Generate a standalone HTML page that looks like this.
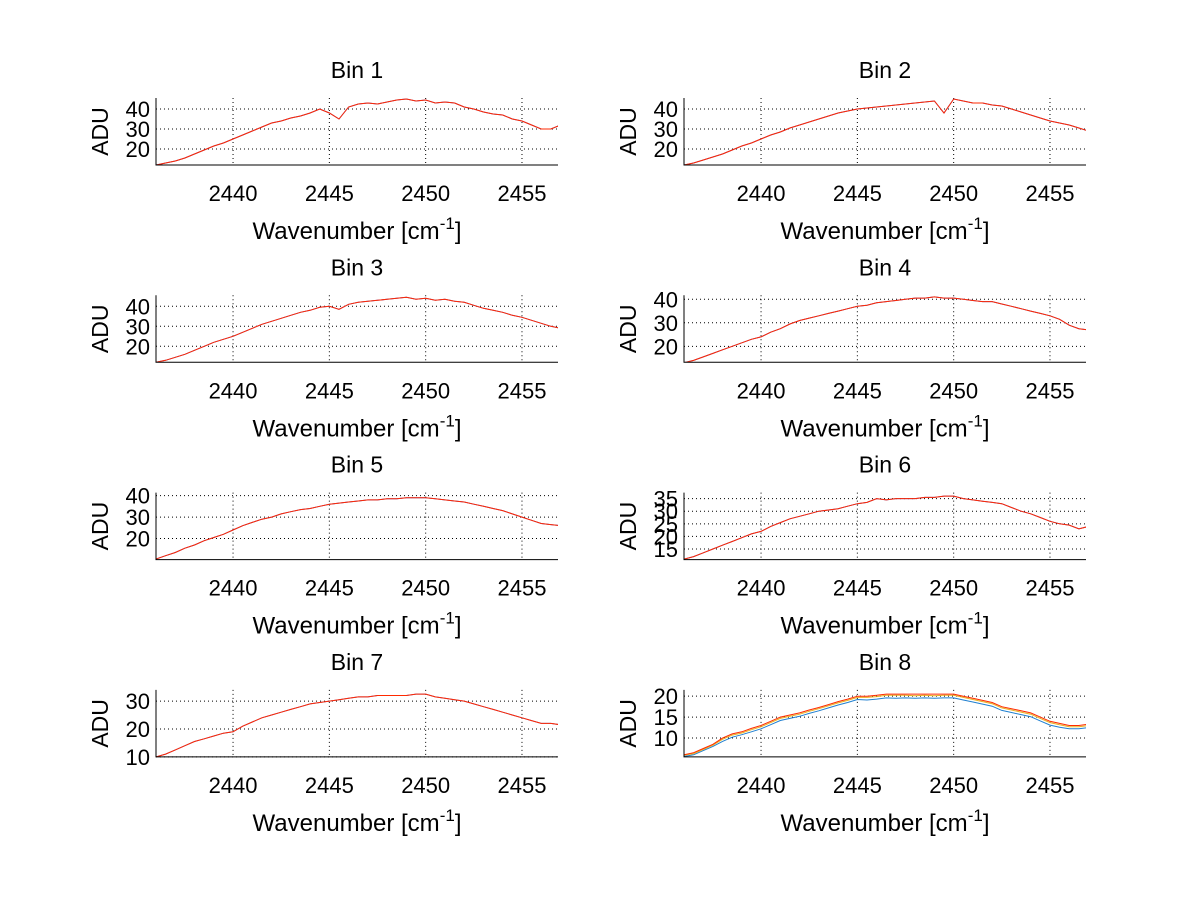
<!DOCTYPE html>
<html><head><meta charset="utf-8"><style>
html,body{margin:0;padding:0;background:#fff;}
svg{display:block;font-family:"Liberation Sans",sans-serif;}
</style></head><body>
<svg id="fig" width="1200" height="901" viewBox="0 0 1200 901" xmlns="http://www.w3.org/2000/svg">
<rect width="1200" height="901" fill="#fff"/>
</svg>
<script>
const xStart = 2436, xStep = 0.5;
const xTicks = [2440, 2445, 2450, 2455];
const bin1 = [12,13,14,15.5,17.5,19.5,21.5,23,25,27,29,31,33,34,35.5,36.5,38,40,38,35,41,42.5,43,42.5,43.5,44.5,45,44,44.5,43,43.5,43,41,40,38.5,37.5,37,35,34,32,30,30,32];
const bin2 = [12,13,14.5,16,17.5,19.5,21.5,23,25,27,28.5,30.5,32,33.5,35,36.5,38,39,40,40.5,41,41.5,42,42.5,43,43.5,44,38,45,44,43,43,42,41.5,40,38.5,37,35.5,34,33,32,30.5,29];
const bin3 = [12,13,14.5,16,18,20,22,23.5,25,27,29,31,32.5,34,35.5,37,38,39.5,40,38.5,41,42,42.5,43,43.5,44,44.5,43.5,44,43,43.5,42.5,42,40.5,39,38,37,35.5,34.5,33,31.5,30,29];
const bin4 = [13,14,15.5,17,18.5,20,21.5,23,24,26,27.5,29.5,31,32,33,34,35,36,37,37.5,38.5,39,39.5,40,40.5,40.5,41,40.5,40.5,40,39.5,39,39,38,37,36,35,34,33,31.5,29,27.5,27];
const bin5 = [10.5,12,13.5,15.5,17,19,20.5,22,24,26,27.5,29,30,31.5,32.5,33.5,34,35,36,36.5,37,37.5,38,38,38.5,38.5,39,39,39,38.5,38,37.5,37,36,35,34,33,31.5,30,28.5,27,26.5,26];
const bin6 = [11,12,13.5,15,16.5,18,19.5,21,22,24,25.5,27,28,29,30,30.5,31,32,33,33.5,35,34.5,35,35,35,35.5,35.5,36,36,35,34.5,34,33.5,33,31.5,30,29,27.5,26,25,24.5,23,24];
const bin7 = [10,11,12.5,14,15.5,16.5,17.5,18.5,19,21,22.5,24,25,26,27,28,29,29.5,30,30.5,31,31.5,31.5,32,32,32,32,32.5,32.5,31.5,31,30.5,30,29,28,27,26,25,24,23,22,22,21.5];
const bin8Red = [6,6.5,7.5,8.5,10,11,11.5,12.3,13,14,15,15.5,16,16.7,17.3,18,18.7,19.3,20,20,20.2,20.5,20.5,20.5,20.5,20.5,20.5,20.5,20.5,20,19.5,19,18.5,17.5,17,16.5,16,15,14,13.5,13,13,13.3];
const bin8Yellow = [5.9,6.3,7.3,8.3,9.7,10.7,11.2,12,12.7,13.7,14.7,15.2,15.7,16.4,17,17.7,18.4,19,19.7,19.7,19.9,20.2,20.2,20.2,20.1,20.2,20.1,20.2,20.2,19.7,19.2,18.7,18.2,17.2,16.7,16.2,15.7,14.7,13.7,13.2,12.7,12.7,13];
const bin8Blue = [5.6,6,7,8,9.2,10.2,10.8,11.5,12.2,13.2,14.2,14.7,15.2,15.9,16.5,17.2,17.9,18.5,19.2,19.1,19.3,19.6,19.5,19.6,19.5,19.6,19.5,19.6,19.6,19.1,18.6,18.1,17.6,16.6,16.1,15.6,15.1,14.1,13.1,12.6,12.2,12.2,12.5];
const panelTitles = ["Bin 1","Bin 2","Bin 3","Bin 4","Bin 5","Bin 6","Bin 7","Bin 8"];
const yLimits = [[12,45.5],[12,45.5],[12,45.5],[13.2,41.7],[10.2,41.4],[10.8,37.4],[10,34],[5.5,21.5]];
const yTickSets = [[20,30,40],[20,30,40],[20,30,40],[20,30,40],[20,30,40],[15,20,25,30,35],[10,20,30],[10,15,20]];
const seriesSets = [
  [[bin1,"#3b3bd0"],[bin1,"#ff2a00"]],
  [[bin2,"#3b3bd0"],[bin2,"#ff2a00"]],
  [[bin3,"#3b3bd0"],[bin3,"#ff2a00"]],
  [[bin4,"#3b3bd0"],[bin4,"#ff2a00"]],
  [[bin5,"#3b3bd0"],[bin5,"#ff2a00"]],
  [[bin6,"#3b3bd0"],[bin6,"#ff2a00"]],
  [[bin7,"#5050d0"],[bin7,"#ff2a00"]],
  [[bin8Blue,"#1f7fd0"],[bin8Yellow,"#e8b020"],[bin8Red,"#ff2a00"]]
];
const NS = "http://www.w3.org/2000/svg";
const svg = document.getElementById("fig");
function mk(tag, attrs, parent){const e=document.createElementNS(NS,tag);for(const k in attrs)e.setAttribute(k,attrs[k]);parent.appendChild(e);return e;}
const xMin = 2436.0, xMax = 2456.87;
for(let p=0;p<8;p++){
  const col=p%2,row=Math.floor(p/2);
  const L = col===0?156:684, R = col===0?558:1086;
  const B = 165+row*197.3, T = B-67;
  const [ymin,ymax]=yLimits[p];
  const sx=v=>L+(v-xMin)/(xMax-xMin)*(R-L);
  const sy=v=>B-(v-ymin)/(ymax-ymin)*(B-T);
  const g=mk("g",{},svg);
  
  
  const clipId="c"+p;
  const cp=mk("clipPath",{id:clipId},g);mk("rect",{x:L,y:T-2,width:R-L,height:B-T+2},cp);
  xTicks.forEach(t=>{const l=mk("line",{x1:sx(t),x2:sx(t),y1:T,y2:B,stroke:"#000","stroke-width":1,"stroke-dasharray":"1,3"},g);
    
    const tx=mk("text",{x:sx(t),y:B+36,"font-size":22,"text-anchor":"middle",fill:"#000"},g);tx.textContent=t;
    });
  yTickSets[p].forEach(t=>{const l=mk("line",{x1:L,x2:R,y1:sy(t),y2:sy(t),stroke:"#000","stroke-width":1,"stroke-dasharray":"1,3"},g);
    
    const tx=mk("text",{x:L-6,y:sy(t)+8,"font-size":22,"text-anchor":"end",fill:"#000"},g);tx.textContent=t;
    });
  seriesSets[p].forEach(([arr,color],si)=>{
    const pts=arr.map((v,i)=>sx(xStart+i*xStep).toFixed(1)+","+sy(v).toFixed(1)).join(" ");
    const pl=mk("polyline",{points:pts,fill:"none",stroke:color,"stroke-width":1,"clip-path":"url(#"+clipId+")"},g);
    
  });
  const ax=mk("path",{d:`M${L},${T}V${B}H${R}`,fill:"none",stroke:"#000","stroke-width":1},g);
  
  const ti=mk("text",{x:(L+R)/2,y:T-20,"font-size":23,"text-anchor":"middle",fill:"#000"},g);ti.textContent=panelTitles[p];
  
  const yl=mk("text",{x:0,y:0,"font-size":23,"text-anchor":"middle",fill:"#000",transform:`translate(${L-48},${(T+B)/2}) rotate(-90)`},g);yl.textContent="ADU";
  
  const xl=mk("text",{x:(L+R)/2,y:B+74,"font-size":24,"text-anchor":"middle",fill:"#000"},g);
  
  xl.appendChild(document.createTextNode("Wavenumber [cm"));
  const sup=mk("tspan",{dy:-10,"font-size":17},xl);sup.textContent="-1";
  const rest=mk("tspan",{dy:10},xl);rest.textContent="]";
}
</script>
</body></html>
